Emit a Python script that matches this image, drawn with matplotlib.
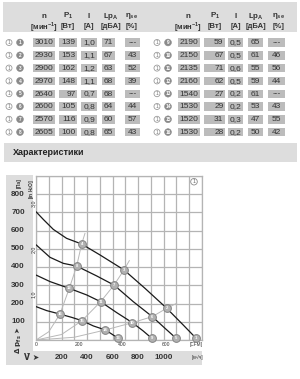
import matplotlib
matplotlib.use('Agg')
import matplotlib.pyplot as plt
from matplotlib.patches import Rectangle, Circle

FONT = ['Liberation Sans Narrow', 'Liberation Sans', 'DejaVu Sans']
plt.rcParams['font.family'] = FONT

# ---------------- table data ----------------
left_ids = [1, 2, 3, 4, 5, 6, 7, 8]
left_n = ['3010', '2930', '2900', '2970', '2640', '2600', '2570', '2605']
left_p = ['139', '153', '162', '148', '97', '105', '116', '100']
left_i = ['1,0', '1,1', '1,2', '1,1', '0,7', '0,8', '0,9', '0,8']
left_lp = ['71', '67', '63', '68', '68', '64', '60', '65']
left_eta = ['---', '43', '52', '39', '---', '44', '57', '43']

right_ids = [9, 10, 11, 12, 13, 14, 15, 16]
right_n = ['2190', '2150', '2135', '2160', '1540', '1530', '1520', '1530']
right_p = ['59', '67', '71', '62', '27', '29', '31', '28']
right_i = ['0,5', '0,5', '0,6', '0,5', '0,2', '0,2', '0,3', '0,2']
right_lp = ['65', '61', '55', '59', '61', '53', '47', '50']
right_eta = ['---', '46', '56', '44', '---', '43', '55', '42']

header_top = ['n', 'P$_\\mathregular{1}$', 'I', 'Lp$_\\mathregular{A}$', '\u03b7$_\\mathregular{se}$']
header_bot = ['[мин$^\\mathregular{-1}$]', '[Вт]', '[A]', '[дБА]', '[%]']
section_title = 'Характеристики'

# ---------------- chart data (Q in m³/h, dp in Pa) ----------------
curve_a_q = [0, 57, 136, 240, 358, 502, 690, 855, 1025, 1155, 1255]
curve_a_p = [703, 661, 606, 557, 526, 466, 384, 283, 174, 82, 10]
curve_b_q = [0, 110, 214, 319, 476, 612, 763, 912, 1012, 1098]
curve_b_p = [522, 453, 420, 405, 351, 301, 210, 128, 64, 10]
curve_c_q = [0, 110, 261, 397, 507, 633, 756, 840, 907]
curve_c_p = [356, 320, 283, 247, 210, 150, 95, 50, 10]
curve_d_q = [0, 84, 188, 280, 361, 450, 544, 600, 643]
curve_d_p = [183, 161, 142, 124, 106, 77, 55, 30, 10]

sys1_q = [0, 100, 188, 261, 319, 358, 384]
sys1_p = [0, 45, 142, 283, 405, 526, 584]
sys2_q = [0, 200, 361, 507, 612, 690, 732]
sys2_p = [0, 30, 106, 210, 301, 384, 435]
sys3_q = [0, 300, 544, 756, 912, 1025, 1103]
sys3_p = [0, 15, 55, 95, 128, 174, 201]

op_ids = [1, 2, 3, 4, 5, 6, 7, 8, 9, 10, 11, 12, 13, 14, 15, 16]
op_q = [1255, 1025, 690, 358, 1098, 912, 612, 319, 907, 756, 507, 261, 643, 544, 361, 188]
op_p = [10, 174, 384, 526, 10, 128, 301, 405, 10, 95, 210, 283, 10, 55, 106, 142]

pa_ticks = [100, 200, 300, 400, 500, 600, 700, 800]
inh2o_ticks = [1.0, 2.0, 3.0]
m3h_ticks = [200, 400, 600, 800, 1000]
cfm_ticks = [0, 200, 400, 600]
PA_PER_INH2O = 249.1
M3H_PER_CFM = 1.699

# ---------------- figure ----------------
W, H = 300, 379
fig = plt.figure(figsize=(W / 100, H / 100), dpi=100)
bg = fig.add_axes([0, 0, 1, 1])
bg.set_xlim(0, W)
bg.set_ylim(H, 0)
bg.axis('off')

BAND = '#dddddd'
BOX = '#bcbcbc'
TXT = '#333333'

# table header band
bg.add_patch(Rectangle((3, 2), 294, 30, color=BAND, lw=0))

hdr_left_x = [44, 68, 89, 111, 132]
hdr_right_x = [188, 215, 236, 256, 279]
for xs in (hdr_left_x, hdr_right_x):
    for x, t, b in zip(xs, header_top, header_bot):
        bg.text(x, 16, t, ha='center', va='center', fontsize=5.8, fontweight='bold', color=TXT)
        bg.text(x, 26.5, b, ha='center', va='center', fontsize=5.5, fontweight='bold', color=TXT)

left_boxes = [(33, 55), (59, 77), (81, 97), (102, 115), (125, 140)]
right_boxes = [(178, 200), (204, 225), (228, 243), (248, 263), (268, 285)]


def draw_table(ids, cols, boxes, cx_out, cx_num):
    for r, idn in enumerate(ids):
        y = 42.5 + 12.8 * r
        bg.add_patch(Circle((cx_out, y), 3.0, facecolor='white', edgecolor='#9a9a9a', lw=0.6))
        bg.text(cx_out, y + 0.2, '1', ha='center', va='center', fontsize=3.6, color='#777777')
        bg.add_patch(Circle((cx_num, y), 3.4, facecolor='#8a8a8a', edgecolor='#8a8a8a', lw=0.4))
        bg.text(cx_num, y + 0.2, str(idn), ha='center', va='center', fontsize=3.4,
                color='white', fontweight='bold')
        for c, (col, (x0, x1)) in enumerate(zip(cols, boxes)):
            bg.add_patch(Rectangle((x0, y - 4.2), x1 - x0, 8.4, color=BOX, lw=0))
            val = col[r]
            if c == 1:
                bg.text(x1 - 1.5, y + 0.3, val, ha='right', va='center', fontsize=6.0, color=TXT)
            else:
                bg.text((x0 + x1) / 2, y + 0.3, val, ha='center', va='center', fontsize=6.0, color=TXT)


draw_table(left_ids, [left_n, left_p, left_i, left_lp, left_eta], left_boxes, 9, 20)
draw_table(right_ids, [right_n, right_p, right_i, right_lp, right_eta], right_boxes, 157, 168)

# section band
bg.add_patch(Rectangle((4, 143), 293, 19, color=BAND, lw=0))
bg.text(13, 152.5, section_title, ha='left', va='center', fontsize=6.5, fontweight='bold', color='#222222')

# chart gray frame (L-shape)
bg.add_patch(Rectangle((6, 175), 26.5, 176, color=BAND, lw=0))
bg.add_patch(Rectangle((6, 351), 196, 14, color=BAND, lw=0))

# ---------------- chart axes ----------------
X0, Y0, XW, YH = 36, 340, 165.75, 164.25
ax = fig.add_axes([X0 / W, (H - Y0) / H, XW / W, YH / H])
ax.set_xlim(0, 1300)
ax.set_ylim(0, 900)
ax.set_xticks(range(0, 1301, 100))
ax.set_yticks(range(0, 901, 100))
ax.tick_params(length=0, labelbottom=False, labelleft=False)
ax.grid(True, color='#b4b4b4', lw=0.9)
for s in ax.spines.values():
    s.set_color('#b4b4b4')
    s.set_linewidth(0.9)
ax.set_axisbelow(True)

GRAYLINE = '#b8b8b8'
for q, p in ((sys1_q, sys1_p), (sys2_q, sys2_p), (sys3_q, sys3_p)):
    ax.plot(q, p, color=GRAYLINE, lw=0.7, zorder=2)

for q, p in ((curve_a_q, curve_a_p), (curve_b_q, curve_b_p),
             (curve_c_q, curve_c_p), (curve_d_q, curve_d_p)):
    ax.plot(q, p, color='#1a1a1a', lw=0.9, zorder=3, solid_capstyle='round')

ax.plot(op_q, op_p, 'o', ms=5.6, mfc='#b0b0b0', mec='#858585', mew=0.7,
        zorder=4, clip_on=False)
for i, q, p in zip(op_ids, op_q, op_p):
    ax.text(q, p, str(i), ha='center', va='center', fontsize=3.0, color='white',
            fontweight='bold', zorder=5, clip_on=False)

ytr = ax.get_yaxis_transform()
xtr = ax.get_xaxis_transform()
for v in pa_ticks:
    ax.text((18 - X0) / XW, v, str(v), transform=ytr, ha='center', va='center',
            fontsize=5.8, fontweight='bold', color=TXT, clip_on=False)
for v in inh2o_ticks:
    ax.text((33.3 - X0) / XW, v * PA_PER_INH2O, f'{v:.1f}'.replace('.', ','), transform=ytr,
            ha='center', va='center', fontsize=3.8, rotation=90, color=TXT, clip_on=False)
for v in m3h_ticks:
    ax.text(v, (Y0 - 357.5) / YH, str(v), transform=xtr, ha='center', va='center',
            fontsize=5.8, fontweight='bold', color=TXT, clip_on=False)
for v in cfm_ticks:
    ax.text(v * M3H_PER_CFM, (Y0 - 344.5) / YH, str(v), transform=xtr, ha='center',
            va='center', fontsize=3.6, color=TXT, clip_on=False)

ax.add_patch(Circle(((194 - X0) / XW, (Y0 - 181.7) / YH), 3.3 / XW, transform=ax.transAxes,
                    facecolor='white', edgecolor='#8a8a8a', lw=0.6, zorder=10))
ax.text((194 - X0) / XW, (Y0 - 181.9) / YH, '1', transform=ax.transAxes, ha='center',
        va='center', fontsize=3.8, color='#666666', zorder=11)

bg.text(196.5, 344.5, '[CFM]', ha='center', va='center', fontsize=3.4, color=TXT)
bg.text(197, 357.5, '[м³/ч]', ha='center', va='center', fontsize=3.4, color=TXT)
bg.text(32, 357.5, 'V\u0307 \u27a4', ha='center', va='center', fontsize=5.6,
        fontweight='bold', color=TXT, family=['DejaVu Sans'])
bg.text(18.5, 340, '\u0394 p$_\\mathregular{fs}$ \u27a4', ha='center', va='center', fontsize=5.0,
        rotation=90, fontweight='bold', color=TXT, family=['DejaVu Sans'])
bg.text(19, 183, '[Па]', ha='center', va='center', fontsize=3.6, rotation=90,
        fontweight='bold', color=TXT)
bg.text(31, 189, '[in H$_\\mathregular{2}$O]', ha='center', va='center', fontsize=3.4,
        rotation=90, fontweight='bold', color=TXT)

fig.savefig('out.png', dpi=100)
